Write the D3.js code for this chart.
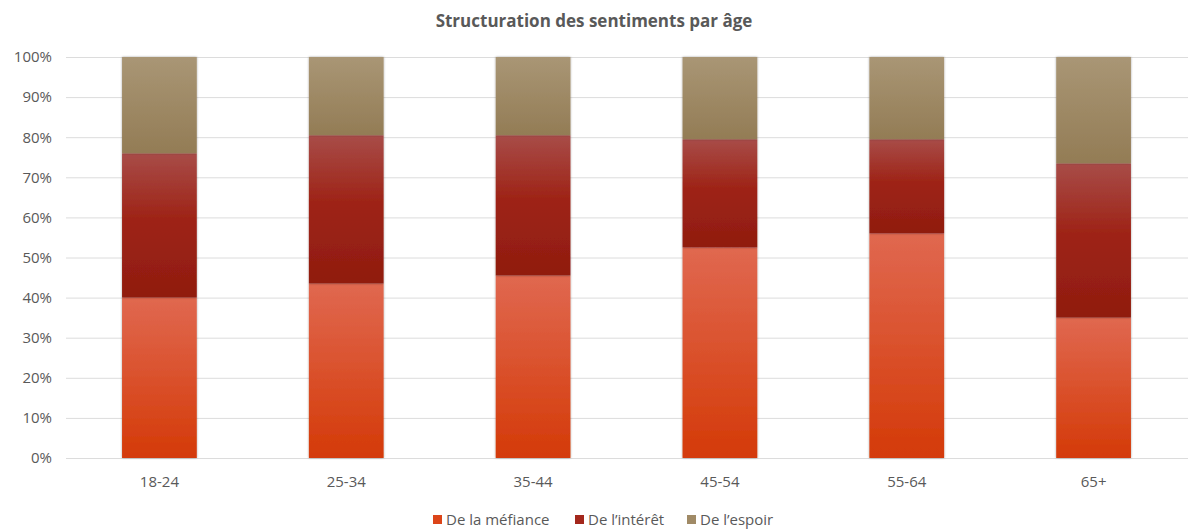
<!DOCTYPE html>
<html><head><meta charset="utf-8">
<script src="https://cdn.jsdelivr.net/npm/d3@7"></script>
<style>html,body{margin:0;padding:0;background:#fff;}svg{display:block;font-family:"Open Sans","Liberation Sans",sans-serif;}</style>
</head><body><svg id="c" width="1188" height="530"></svg>
<script>
const categories = ["18-24","25-34","35-44","45-54","55-64","65+"];
const mefiance = [40, 43.5, 45.5, 52.5, 56, 35];
const interet  = [36, 37, 35, 27, 23.5, 38.5];
const espoir   = [24, 19.5, 19.5, 20.5, 20.5, 26.5];
const seriesNames = ["De la méfiance","De l\u2019intérêt","De l\u2019espoir"];
const yTicks = [0,10,20,30,40,50,60,70,80,90,100];

const svg = d3.select("#c");
const W = 1188, H = 530;
const m = {l:66, r:1, t:57, b:72};
const x = d3.scaleBand().domain(categories).range([m.l, W - m.r]).paddingInner(0.6).paddingOuter(0.3);
const y = d3.scaleLinear().domain([0,100]).range([H - m.b, m.t]);

const grads = [
  {id:"g0", top:"#e06850", bot:"#d43a08"},
  {id:"g1", top:"#a84c48", mid:"#9e2417", bot:"#901c0f"},
  {id:"g2", top:"#a99675", bot:"#937c55"}
];
const defs = svg.append("defs");
grads.forEach(g => {
  const lg = defs.append("linearGradient").attr("id", g.id).attr("x1",0).attr("y1",0).attr("x2",0).attr("y2",1);
  lg.append("stop").attr("offset","0%").attr("stop-color", g.top);
  if (g.mid) lg.append("stop").attr("offset","45%").attr("stop-color", g.mid);
  lg.append("stop").attr("offset","100%").attr("stop-color", g.bot);
});
const f = defs.append("filter").attr("id","sh").attr("x","-10%").attr("y","-5%").attr("width","120%").attr("height","110%");
f.append("feDropShadow").attr("dx",0).attr("dy",0).attr("stdDeviation",1.2).attr("flood-color","#000").attr("flood-opacity",0.35);

// grid
svg.append("g").selectAll("line").data(yTicks).join("line")
  .attr("x1", m.l).attr("x2", W).attr("y1", d => y(d)+0.5).attr("y2", d => y(d)+0.5)
  .attr("stroke","#dcdcdc").attr("stroke-width",1);

// y axis labels
const yAxis = d3.axisLeft(y).tickValues(yTicks).tickFormat(d => d + "%").tickSize(0).tickPadding(14);
const ya = svg.append("g").attr("transform", `translate(${m.l},0)`).call(yAxis);
ya.select(".domain").remove();
ya.selectAll("text").attr("fill","#595959").attr("font-size",15).attr("font-family","'Open Sans',sans-serif");

// stack
const data = categories.map((c,i) => ({cat:c, s0:mefiance[i], s1:interet[i], s2:espoir[i]}));
const stack = d3.stack().keys(["s0","s1","s2"])(data);

stack.forEach((layer, k) => {
  svg.append("g").selectAll("rect").data(layer).join("rect")
    .attr("x", d => x(d.data.cat))
    .attr("width", x.bandwidth())
    .attr("y", d => y(d[1]))
    .attr("height", d => y(d[0]) - y(d[1]))
    .attr("fill", `url(#g${k})`)
    .attr("filter","url(#sh)");
});

// x axis labels
const xAxis = d3.axisBottom(x).tickSize(0).tickPadding(18);
const xa = svg.append("g").attr("transform", `translate(0,${H - m.b})`).call(xAxis);
xa.select(".domain").remove();
xa.selectAll("text").attr("fill","#595959").attr("font-size",15).attr("font-family","'Open Sans',sans-serif");

// title
svg.append("text").attr("x", 594).attr("y", 27).attr("text-anchor","middle")
  .attr("font-size",17).attr("font-weight","bold").attr("fill","#595959")
  .text("Structuration des sentiments par âge");

// legend
const legColors = ["#dc4519","#a3271c","#a08a66"];
const legX = [433, 575, 687];
const lg = svg.append("g");
seriesNames.forEach((n,i) => {
  lg.append("rect").attr("x", legX[i]).attr("y", 515).attr("width",9).attr("height",9).attr("fill", legColors[i]);
  lg.append("text").attr("x", legX[i]+13).attr("y", 525).attr("font-size",15).attr("fill","#595959").text(n);
});
</script></body></html>
